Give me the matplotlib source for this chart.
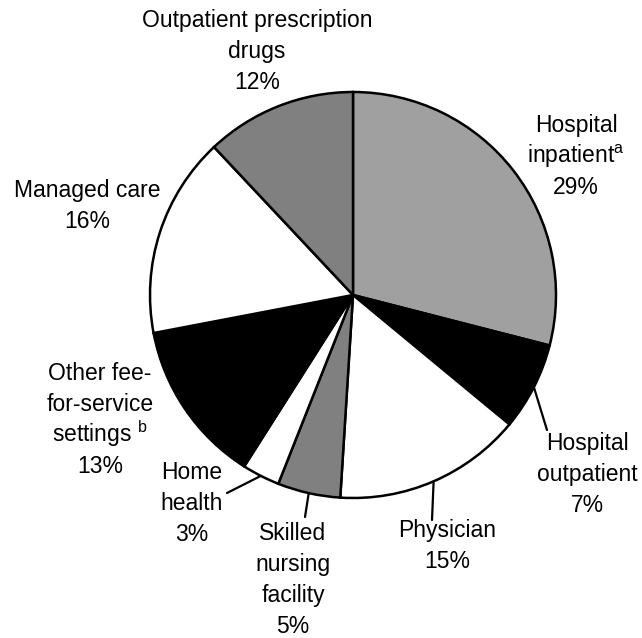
import numpy as np
import matplotlib
matplotlib.use('Agg')
import matplotlib.pyplot as plt

plt.rcParams['font.family'] = ['Liberation Sans', 'DejaVu Sans']
plt.rcParams['mathtext.fontset'] = 'custom'
plt.rcParams['mathtext.rm'] = 'Liberation Sans'

# slices, clockwise from 12 o'clock
names = ['Hospital\ninpatient$^{\\mathrm{a}}$', 'Hospital\noutpatient', 'Physician',
         'Skilled\nnursing\nfacility', 'Home\nhealth', 'Other fee-\nfor-service\nsettings $^{\\mathrm{b}}$',
         'Managed care', 'Outpatient prescription\ndrugs']
shares = [29, 7, 15, 5, 3, 13, 16, 12]
colors = ['#a0a0a0', '#000000', '#ffffff', '#808080', '#ffffff', '#000000', '#ffffff', '#808080']

# centre of first label line (pixel, from top-left) for each slice
label_xy = [(576, 125), (587, 443), (447, 530), (293, 533), (192, 472), (100, 373), (87, 190), (257, 20)]
# slices with a leader line: index -> end point in pixels
leaders = {1: (547, 430), 2: (432, 520), 3: (305, 517), 4: (227, 493)}

W, H = 642, 638
cx, cy, r = 353, 295, 203
pitch = 31


def py(y):
    return H - y


def main():
    fig = plt.figure(figsize=(W / 100, H / 100), dpi=100)
    ax = fig.add_axes([0, 0, 1, 1])
    wedges, _ = ax.pie(shares, colors=colors, startangle=90, counterclock=False,
                       center=(cx, py(cy)), radius=r,
                       wedgeprops=dict(edgecolor='black', linewidth=1.8))
    ax.set_xlim(0, W)
    ax.set_ylim(0, H)
    ax.set_aspect('equal')
    ax.axis('off')

    for i, (name, s) in enumerate(zip(names, shares)):
        lx, ly = label_xy[i]
        lines = name.split('\n') + [f'{s}%']
        for k, line in enumerate(lines):
            # baseline sits ~7px below the visual centre of a line
            ax.text(lx, py(ly + k * pitch + 7), line, ha='center', va='baseline',
                    fontsize=16.5)

    for i, end in leaders.items():
        w = wedges[i]
        mid = np.deg2rad((w.theta1 + w.theta2) / 2)
        start = (cx + r * np.cos(mid), py(cy) + r * np.sin(mid))
        ax.annotate('', xy=start, xytext=(end[0], py(end[1])),
                    arrowprops=dict(arrowstyle='-', lw=1.6, color='black',
                                    shrinkA=0, shrinkB=0))

    fig.savefig('out.png', dpi=100)


if __name__ == '__main__':
    main()
